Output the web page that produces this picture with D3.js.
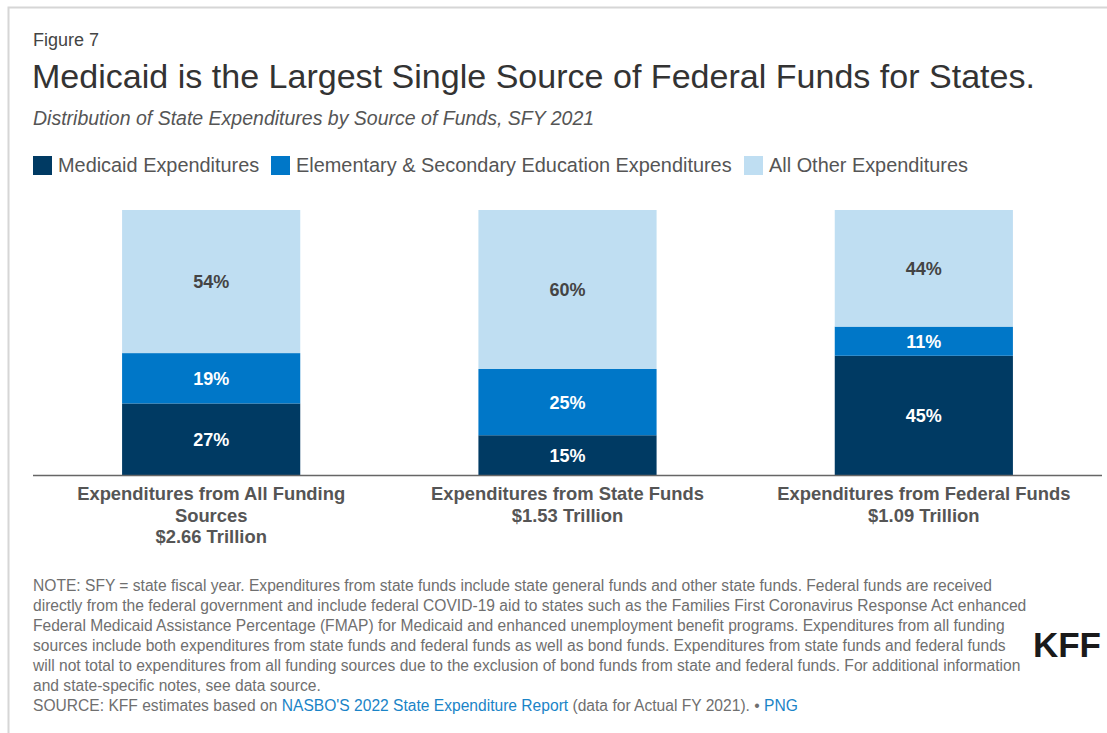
<!DOCTYPE html>
<meta charset="utf-8">
<head>
<style>
body { margin: 0; background: #fff; }
svg { display: block; font-family: "Liberation Sans", Arial, sans-serif; }
</style>
<script src="https://d3js.org/d3.v7.min.js"></script>
</head>
<body>
<div id="chart"></div>
<script>
// data
var categories = ["all", "state", "federal"];
var categoryLabels = [
  ["Expenditures from All Funding", "Sources", "$2.66 Trillion"],
  ["Expenditures from State Funds", "$1.53 Trillion"],
  ["Expenditures from Federal Funds", "$1.09 Trillion"]
];
var seriesNames = ["Medicaid Expenditures", "Elementary & Secondary Education Expenditures", "All Other Expenditures"];
var medicaid = [27, 15, 45];
var education = [19, 25, 11];
var other = [54, 60, 44];

var noteLines = [
  "NOTE: SFY = state fiscal year. Expenditures from state funds include state general funds and other state funds. Federal funds are received",
  "directly from the federal government and include federal COVID-19 aid to states such as the Families First Coronavirus Response Act enhanced",
  "Federal Medicaid Assistance Percentage (FMAP) for Medicaid and enhanced unemployment benefit programs. Expenditures from all funding",
  "sources include both expenditures from state funds and federal funds as well as bond funds. Expenditures from state funds and federal funds",
  "will not total to expenditures from all funding sources due to the exclusion of bond funds from state and federal funds. For additional information",
  "and state-specific notes, see data source."
];

var width = 1107,
    height = 733;
var colors = ["#003a63", "#0077c8", "#bfdef2"];
var labelColors = ["#fff", "#fff", "#444"];

var svg = d3.select("#chart").append("svg")
    .attr("width", width)
    .attr("height", height);

// card border (open on the right and bottom, like the crop)
svg.append("rect")
    .attr("x", 8.5).attr("y", 7.5)
    .attr("width", width + 10).attr("height", height + 10)
    .attr("fill", "none")
    .attr("stroke", "#d6d6d6")
    .attr("stroke-width", 2);

svg.append("text")
    .attr("x", 33).attr("y", 46)
    .attr("font-size", 18).attr("fill", "#444")
    .text("Figure 7");

svg.append("text")
    .attr("x", 32).attr("y", 88)
    .attr("font-size", 33).attr("fill", "#333")
    .attr("textLength", 1003).attr("lengthAdjust", "spacingAndGlyphs")
    .text("Medicaid is the Largest Single Source of Federal Funds for States.");

svg.append("text")
    .attr("x", 33).attr("y", 125)
    .attr("font-size", 19.5).attr("font-style", "italic").attr("fill", "#555")
    .text("Distribution of State Expenditures by Source of Funds, SFY 2021");

// legend
var legendX = [33, 271, 744];
var legend = svg.append("g").selectAll("g")
    .data(seriesNames)
    .join("g")
    .attr("transform", function(d, i) { return "translate(" + legendX[i] + ",156)"; });
legend.append("rect")
    .attr("width", 19).attr("height", 19)
    .attr("fill", function(d, i) { return colors[i]; });
legend.append("text")
    .attr("x", 25).attr("y", 16)
    .attr("font-size", 19.9).attr("fill", "#555")
    .text(function(d) { return d; });

// chart
var x = d3.scaleBand()
    .domain(categories)
    .range([33, 1102])
    .paddingInner(0.5)
    .paddingOuter(0.25);
var y = d3.scaleLinear()
    .domain([0, 100])
    .range([475, 210]);

var rows = categories.map(function(c, i) {
  return { cat: c, medicaid: medicaid[i], education: education[i], other: other[i] };
});
var stack = d3.stack().keys(["medicaid", "education", "other"]);
var series = stack(rows);

var layers = svg.append("g").selectAll("g")
    .data(series)
    .join("g")
    .attr("fill", function(d, i) { return colors[i]; });

layers.selectAll("rect")
    .data(function(d) { return d; })
    .join("rect")
    .attr("x", function(d) { return x(d.data.cat); })
    .attr("width", x.bandwidth())
    .attr("y", function(d) { return y(d[1]); })
    .attr("height", function(d) { return y(d[0]) - y(d[1]); });

layers.each(function(s, i) {
  d3.select(this).selectAll("text")
    .data(s)
    .join("text")
    .attr("x", function(d) { return x(d.data.cat) + x.bandwidth() / 2; })
    .attr("y", function(d) { return (y(d[0]) + y(d[1])) / 2 + 6.5; })
    .attr("text-anchor", "middle")
    .attr("font-size", 18).attr("font-weight", "bold")
    .attr("fill", labelColors[i])
    .text(function(d) { return (d[1] - d[0]) + "%"; });
});

// baseline axis
var xAxis = svg.append("g")
    .attr("transform", "translate(0," + y(0) + ")")
    .call(d3.axisBottom(x).tickSize(0).tickFormat(""));
xAxis.select(".domain").attr("stroke", "#666").attr("stroke-width", 1.5)
    .attr("d", "M33,0.5H1102");

var catLabels = svg.append("g").selectAll("text")
    .data(categories)
    .join("text")
    .attr("x", function(d) { return x(d) + x.bandwidth() / 2; })
    .attr("y", 500)
    .attr("text-anchor", "middle")
    .attr("font-size", 18.4).attr("font-weight", "bold").attr("fill", "#555");
catLabels.selectAll("tspan")
    .data(function(d, i) { return categoryLabels[i]; })
    .join("tspan")
    .attr("x", function() { return this.parentNode.getAttribute("x"); })
    .attr("dy", function(d, i) { return i ? 21.5 : 0; })
    .text(function(d) { return d; });

// notes
svg.append("g").selectAll("text")
    .data(noteLines)
    .join("text")
    .attr("x", 33)
    .attr("y", function(d, i) { return 591 + i * 20; })
    .attr("font-size", 15.6).attr("fill", "#6f6f6f")
    .text(function(d) { return d; });

var src = svg.append("text")
    .attr("x", 33).attr("y", 711)
    .attr("font-size", 15.6).attr("fill", "#6f6f6f");
src.append("tspan").text("SOURCE: KFF estimates based on ");
src.append("tspan").attr("fill", "#1a84c7").text("NASBO'S 2022 State Expenditure Report");
src.append("tspan").text(" (data for Actual FY 2021). • ");
src.append("tspan").attr("fill", "#1a84c7").text("PNG");

svg.append("text")
    .attr("x", 1101).attr("y", 657)
    .attr("text-anchor", "end")
    .attr("font-size", 35).attr("font-weight", "bold").attr("fill", "#1a1a1a")
    .text("KFF");
</script>
</body>
